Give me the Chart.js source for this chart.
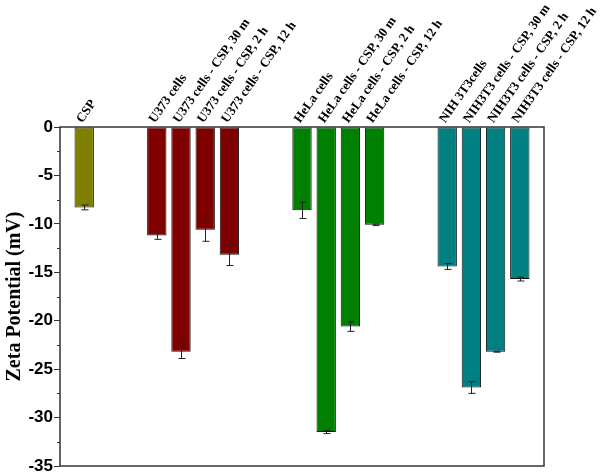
<!DOCTYPE html>
<html>
<head>
<meta charset="utf-8">
<script src="https://cdn.jsdelivr.net/npm/chart.js@4/dist/chart.umd.min.js"></script>
<style>
  html, body { margin: 0; padding: 0; background: #fff; }
  #wrap { width: 600px; height: 472px; }
</style>
</head>
<body>
<div id="wrap"><canvas id="chart"></canvas></div>
<script>
// Categories along the axis ('' = empty slot between groups)
const categories = [
  '', 'CSP', '', '',
  'U373 cells', 'U373 cells - CSP, 30 m', 'U373 cells - CSP, 2 h', 'U373 cells - CSP, 12 h', '', '',
  'HeLa cells', 'HeLa cells - CSP, 30 m', 'HeLa cells - CSP, 2 h', 'HeLa cells - CSP, 12 h', '', '',
  'NIH 3T3cells', 'NIH3T3 cells - CSP, 30 m', 'NIH3T3 cells - CSP, 2 h', 'NIH3T3 cells - CSP, 12 h', ''
];

// Zeta potential (mV)
const zetaValues = [
  null, -8.3, null, null,
  -11.2, -23.2, -10.6, -13.2, null, null,
  -8.6, -31.5, -20.6, -10.1, null, null,
  -14.4, -26.9, -23.2, -15.7, null
];

// Error bar half-widths (mV)
const zetaErrors = [
  null, 0.25, null, null,
  0.4, 0.7, 1.2, 1.1, null, null,
  0.85, 0.15, 0.5, 0.08, null, null,
  0.3, 0.6, 0.05, 0.2, null
];

// Y axis ticks
const yTicks = [0, -5, -10, -15, -20, -25, -30, -35];

// Colour for each bar, picked by group name
function barColor(label) {
  if (label.startsWith('CSP')) return '#808000';
  if (label.startsWith('U373')) return '#800000';
  if (label.startsWith('HeLa')) return '#008000';
  return '#008080';
}

// Draws the frame around the plot area
const framePlugin = {
  id: 'frame',
  afterDatasetsDraw(chart) {
    const { ctx, chartArea: a } = chart;
    ctx.save();
    ctx.strokeStyle = '#333';
    ctx.lineWidth = 1.5;
    ctx.strokeRect(a.left, a.top, a.right - a.left, a.bottom - a.top);
    ctx.restore();
  }
};

// Minor ticks on the y axis
const minorTickPlugin = {
  id: 'minorTicks',
  afterDraw(chart) {
    const { ctx, scales } = chart;
    const y = scales.y;
    ctx.save();
    ctx.strokeStyle = '#333';
    ctx.lineWidth = 1;
    for (let i = 0; i < yTicks.length - 1; i++) {
      const v = (yTicks[i] + yTicks[i + 1]) / 2;
      const py = Math.round(y.getPixelForValue(v)) + 0.5;
      ctx.beginPath();
      ctx.moveTo(y.right - 3, py);
      ctx.lineTo(y.right, py);
      ctx.stroke();
    }
    ctx.restore();
  }
};

// Error bars drawn through the y scale
const errorBarPlugin = {
  id: 'errorBars',
  afterDatasetsDraw(chart) {
    const { ctx, scales } = chart;
    const meta = chart.getDatasetMeta(0);
    ctx.save();
    ctx.strokeStyle = '#222';
    ctx.lineWidth = 1;
    meta.data.forEach((bar, i) => {
      const v = zetaValues[i];
      const e = zetaErrors[i];
      if (v === null || e === null) return;
      const x = Math.round(bar.x) + 0.5;
      const yTop = scales.y.getPixelForValue(v + e);
      const yBot = scales.y.getPixelForValue(v - e);
      ctx.beginPath();
      ctx.moveTo(x, yTop);
      ctx.lineTo(x, yBot);
      ctx.moveTo(x - 3, yTop);
      ctx.lineTo(x + 4, yTop);
      ctx.moveTo(x - 3, yBot);
      ctx.lineTo(x + 4, yBot);
      ctx.stroke();
    });
    ctx.restore();
  }
};

const ctx = document.getElementById('chart').getContext('2d');
new Chart(ctx, {
  type: 'bar',
  data: {
    labels: categories,
    datasets: [{
      data: zetaValues,
      backgroundColor: categories.map(barColor),
      borderColor: '#111',
      borderWidth: 1,
      borderSkipped: false,
      barPercentage: 0.8,
      categoryPercentage: 1.0
    }]
  },
  options: {
    responsive: true,
    maintainAspectRatio: false,
    animation: false,
    layout: { padding: { left: 0, right: 56, top: 0, bottom: 6 } },
    plugins: {
      legend: { display: false },
      tooltip: { enabled: false }
    },
    scales: {
      x: {
        position: 'top',
        offset: false,
        grid: { display: false, drawTicks: false },
        border: { display: false },
        ticks: {
          autoSkip: false,
          minRotation: 55,
          maxRotation: 55,
          padding: 1,
          labelOffset: 8,
          color: '#000',
          font: { family: '"Liberation Serif", "Times New Roman", serif', size: 13, weight: 'bold' }
        },
        afterFit: (scale) => {
          scale.height = 127;
          scale.paddingLeft = 0;
          scale.paddingRight = 0;
        }
      },
      y: {
        min: -35,
        max: 0,
        afterBuildTicks: (scale) => { scale.ticks = yTicks.map(v => ({ value: v })); },
        grid: { drawOnChartArea: false, drawTicks: true, tickLength: 6, color: '#333' },
        border: { display: false },
        ticks: {
          padding: 1,
          color: '#000',
          font: { family: '"Liberation Sans", Arial, sans-serif', size: 17, weight: 'bold' }
        },
        title: {
          display: true,
          text: 'Zeta Potential (mV)',
          color: '#000',
          padding: { top: 3, bottom: 0 },
          font: { family: '"Liberation Serif", "Times New Roman", serif', size: 20, weight: 'bold' }
        },
        afterFit: (scale) => {
          scale.width = 60;
          scale.paddingTop = 0;
          scale.paddingBottom = 0;
        }
      }
    }
  },
  plugins: [framePlugin, minorTickPlugin, errorBarPlugin]
});
</script>
</body>
</html>
